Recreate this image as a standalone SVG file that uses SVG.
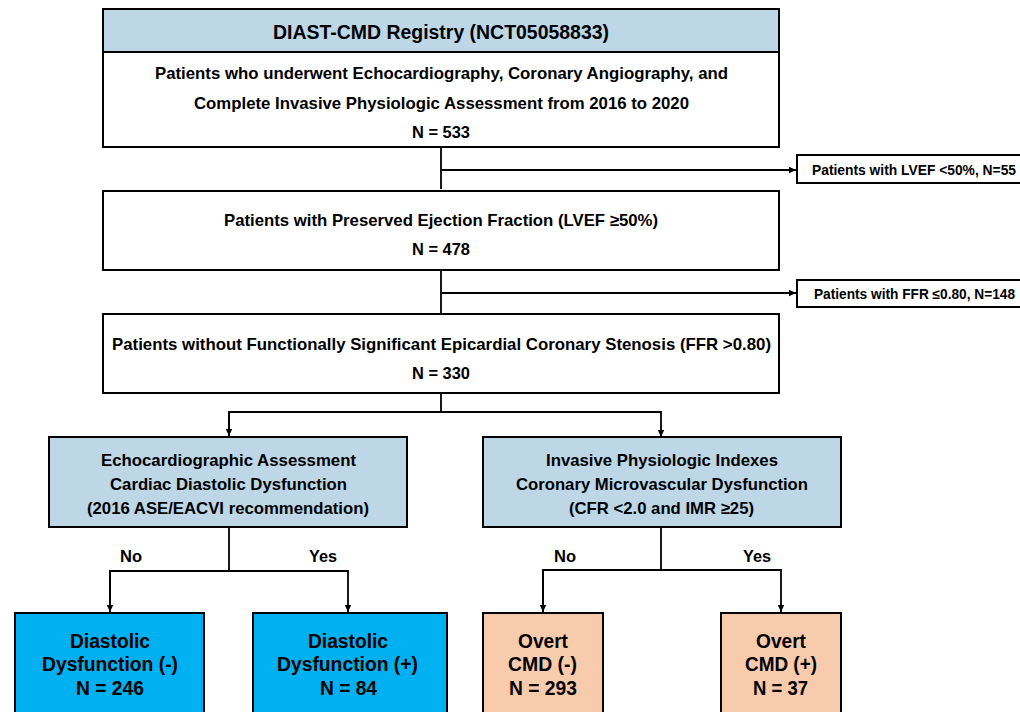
<svg xmlns="http://www.w3.org/2000/svg" width="1020" height="712" viewBox="0 0 1020 712">
<defs>
<marker id="ah" markerWidth="8" markerHeight="8" refX="7" refY="4" orient="auto" markerUnits="userSpaceOnUse">
<path d="M0,0.8 L7,4 L0,7.2 Z" fill="#000"/>
</marker>
<style>
.box{stroke:#000;stroke-width:2;}
.w{fill:#fff;}
.lb{fill:#bdd7e7;}
.cy{fill:#00b0f0;}
.pe{fill:#f8cbad;}
text{font-family:"Liberation Sans",Arial,sans-serif;font-weight:bold;fill:#000;}
.c{text-anchor:middle;}
.t{font-size:19.5px;}
.m{font-size:16.6px;}
.s{font-size:14px;}
.b{font-size:19.4px;}
.y{font-size:16px;}
.ln{fill:none;stroke:#000;stroke-width:1.8;}
</style>
</defs>
<rect width="1020" height="712" fill="#fff"/>
<g id="connectors">
<path class="ln" d="M441,147 V189"/>
<path class="ln" d="M441,170 H796" marker-end="url(#ah)"/>
<path class="ln" d="M441,270 V313"/>
<path class="ln" d="M441,293 H796" marker-end="url(#ah)"/>
<path class="ln" d="M441,393 V412"/>
<path class="ln" d="M229,437 V412 H661 V437" marker-end="url(#ah)"/>
<path class="ln" d="M229,412 V436" marker-end="url(#ah)"/>
<path class="ln" d="M229,527 V571"/>
<path class="ln" d="M110,612 V571 H348 V612" marker-end="url(#ah)"/>
<path class="ln" d="M110,571 V612" marker-end="url(#ah)"/>
<path class="ln" d="M661,527 V570"/>
<path class="ln" d="M543,612 V570 H781 V612" marker-end="url(#ah)"/>
<path class="ln" d="M543,570 V612" marker-end="url(#ah)"/>
<text class="y c" x="131" y="562" textLength="22" lengthAdjust="spacingAndGlyphs">No</text>
<text class="y c" x="323" y="562" textLength="28" lengthAdjust="spacingAndGlyphs">Yes</text>
<text class="y c" x="565" y="562" textLength="22" lengthAdjust="spacingAndGlyphs">No</text>
<text class="y c" x="757" y="562" textLength="28" lengthAdjust="spacingAndGlyphs">Yes</text>
</g>
<g id="registry">
<rect class="box w" x="103" y="9" width="676" height="138"/>
<rect class="box lb" x="103" y="9" width="676" height="43"/>
<text class="t c" x="441" y="39" textLength="336" lengthAdjust="spacingAndGlyphs">DIAST-CMD Registry (NCT05058833)</text>
<text class="m c" x="441.5" y="79" textLength="573" lengthAdjust="spacingAndGlyphs">Patients who underwent Echocardiography, Coronary Angiography, and</text>
<text class="m c" x="441.5" y="109" textLength="495" lengthAdjust="spacingAndGlyphs">Complete Invasive Physiologic Assessment from 2016 to 2020</text>
<text class="m c" x="441" y="138" textLength="58" lengthAdjust="spacingAndGlyphs">N = 533</text>
</g>
<g id="excl-lvef">
<rect class="box w" x="797" y="155" width="240" height="28"/>
<text class="s" x="812" y="174.5" textLength="204" lengthAdjust="spacingAndGlyphs">Patients with LVEF &lt;50%, N=55</text>
</g>
<g id="excl-ffr">
<rect class="box w" x="797" y="280" width="240" height="27"/>
<text class="s" x="814" y="298.5" textLength="201" lengthAdjust="spacingAndGlyphs">Patients with FFR ≤0.80, N=148</text>
</g>
<g id="preserved">
<rect class="box w" x="103" y="191" width="676" height="79"/>
<text class="m c" x="441" y="226" textLength="434" lengthAdjust="spacingAndGlyphs">Patients with Preserved Ejection Fraction (LVEF ≥50%)</text>
<text class="m c" x="441" y="255" textLength="58" lengthAdjust="spacingAndGlyphs">N = 478</text>
</g>
<g id="nonsig">
<rect class="box w" x="103" y="314" width="676" height="79"/>
<text class="m c" x="441.5" y="349.5" textLength="659" lengthAdjust="spacingAndGlyphs">Patients without Functionally Significant Epicardial Coronary Stenosis (FFR &gt;0.80)</text>
<text class="m c" x="441" y="379" textLength="58" lengthAdjust="spacingAndGlyphs">N = 330</text>
</g>
<g id="echo">
<rect class="box lb" x="49" y="437" width="358" height="90"/>
<text class="m c" x="228.5" y="466" textLength="255" lengthAdjust="spacingAndGlyphs">Echocardiographic Assessment</text>
<text class="m c" x="228.5" y="490" textLength="237" lengthAdjust="spacingAndGlyphs">Cardiac Diastolic Dysfunction</text>
<text class="m c" x="228" y="514" textLength="282" lengthAdjust="spacingAndGlyphs">(2016 ASE/EACVI recommendation)</text>
</g>
<g id="invasive">
<rect class="box lb" x="483" y="437" width="358" height="90"/>
<text class="m c" x="662" y="466" textLength="232" lengthAdjust="spacingAndGlyphs">Invasive Physiologic Indexes</text>
<text class="m c" x="662" y="490" textLength="292" lengthAdjust="spacingAndGlyphs">Coronary Microvascular Dysfunction</text>
<text class="m c" x="661.5" y="514" textLength="185" lengthAdjust="spacingAndGlyphs">(CFR &lt;2.0 and IMR ≥25)</text>
</g>
<g id="dd-neg">
<rect class="box cy" x="15" y="613" width="189" height="110"/>
<text class="b c" x="110" y="648" textLength="80" lengthAdjust="spacingAndGlyphs">Diastolic</text>
<text class="b c" x="110" y="671" textLength="136" lengthAdjust="spacingAndGlyphs">Dysfunction (-)</text>
<text class="b c" x="110" y="695" textLength="68" lengthAdjust="spacingAndGlyphs">N = 246</text>
</g>
<g id="dd-pos">
<rect class="box cy" x="253" y="613" width="194" height="110"/>
<text class="b c" x="348" y="648" textLength="80" lengthAdjust="spacingAndGlyphs">Diastolic</text>
<text class="b c" x="347.5" y="671" textLength="141" lengthAdjust="spacingAndGlyphs">Dysfunction (+)</text>
<text class="b c" x="348.5" y="695" textLength="57" lengthAdjust="spacingAndGlyphs">N = 84</text>
</g>
<g id="cmd-neg">
<rect class="box pe" x="483" y="613" width="120" height="110"/>
<text class="b c" x="543" y="648" textLength="50" lengthAdjust="spacingAndGlyphs">Overt</text>
<text class="b c" x="542.5" y="671" textLength="69" lengthAdjust="spacingAndGlyphs">CMD (-)</text>
<text class="b c" x="543" y="695" textLength="68" lengthAdjust="spacingAndGlyphs">N = 293</text>
</g>
<g id="cmd-pos">
<rect class="box pe" x="721" y="613" width="120" height="110"/>
<text class="b c" x="781" y="648" textLength="50" lengthAdjust="spacingAndGlyphs">Overt</text>
<text class="b c" x="781" y="671" textLength="72" lengthAdjust="spacingAndGlyphs">CMD (+)</text>
<text class="b c" x="780.5" y="695" textLength="55" lengthAdjust="spacingAndGlyphs">N = 37</text>
</g>
</svg>
